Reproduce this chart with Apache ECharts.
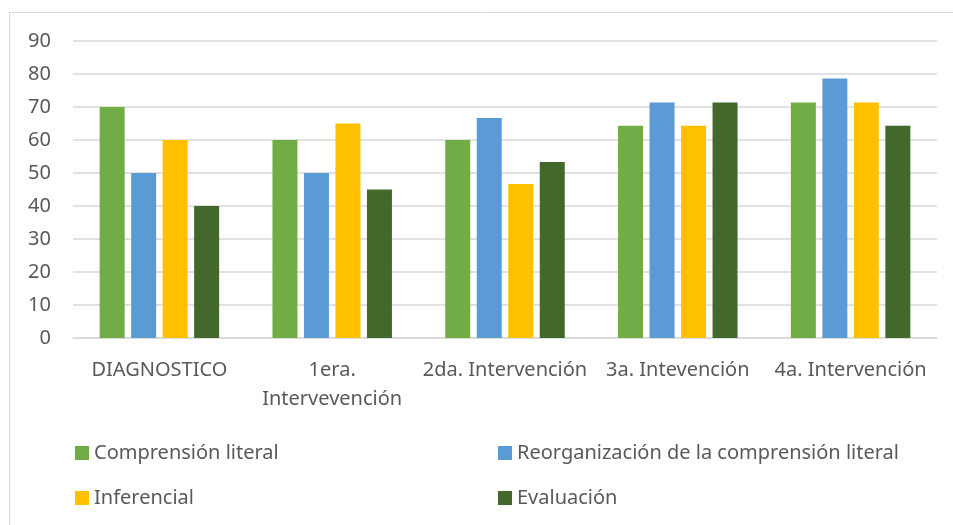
<!DOCTYPE html>
<html>
<head>
<meta charset="utf-8">
<script src="https://cdn.jsdelivr.net/npm/echarts@6/dist/echarts.min.js"></script>
<style>
  html, body { margin: 0; padding: 0; background: #fff; }
  #chart { width: 953px; height: 525px; }
</style>
</head>
<body>
<div id="chart"></div>
<script>
const categories = ["DIAGNOSTICO", "1era.\nIntervevención", "2da. Intervención", "3a. Intevención", "4a. Intervención"]
const comprension = [70, 60, 60, 64.3, 71.4]
const reorganizacion = [50, 50, 66.7, 71.4, 78.6]
const inferencial = [60, 65, 46.7, 64.3, 71.4]
const evaluacion = [40, 45, 53.3, 71.4, 64.3]
const seriesNames = ["Comprensión literal", "Reorganización de la comprensión literal", "Inferencial", "Evaluación"]
const colors = ["#70ad47", "#5b9bd5", "#ffc000", "#43682b"]

const font = "Noto Sans"
const textColor = "#595959"

let chart = echarts.init(document.getElementById("chart"))

function bar(name, data) {
  return {
    name: name,
    type: "bar",
    data: data,
    barWidth: 25,
    barGap: "26%",
    barCategoryGap: "31%"
  }
}

function legendAt(left, names) {
  return {
    left: left,
    top: 438,
    orient: "vertical",
    itemWidth: 14,
    itemHeight: 14,
    itemGap: 25,
    icon: "rect",
    data: names,
    textStyle: { fontFamily: font, fontSize: 20, lineHeight: 20, color: textColor, padding: [0, 0, 0, 0] }
  }
}

chart.setOption({
  animation: false,
  color: colors,
  graphic: [{
    type: "rect",
    shape: { x: 9.5, y: 12.5, width: 960, height: 540 },
    style: { fill: "none", stroke: "#d9d9d9", lineWidth: 1 }
  }],
  grid: {
    left: 73,
    right: 16,
    top: 41,
    bottom: 187
  },
  legend: [
    legendAt(70, [seriesNames[0], seriesNames[2]]),
    legendAt(493, [seriesNames[1], seriesNames[3]])
  ],
  xAxis: {
    type: "category",
    data: categories,
    axisLine: { lineStyle: { color: "#d9d9d9", width: 1.5 } },
    axisTick: { show: false },
    axisLabel: {
      interval: 0,
      margin: 18,
      fontFamily: font,
      fontSize: 20,
      lineHeight: 29,
      color: textColor
    }
  },
  yAxis: {
    type: "value",
    min: 0,
    max: 90,
    interval: 10,
    axisLine: { show: false },
    axisTick: { show: false },
    splitLine: { lineStyle: { color: "#d9d9d9", width: 1.5 } },
    axisLabel: {
      margin: 22,
      fontFamily: font,
      fontSize: 20,
      color: textColor
    }
  },
  series: [
    bar(seriesNames[0], comprension),
    bar(seriesNames[1], reorganizacion),
    bar(seriesNames[2], inferencial),
    bar(seriesNames[3], evaluacion)
  ]
})
</script>
</body>
</html>
